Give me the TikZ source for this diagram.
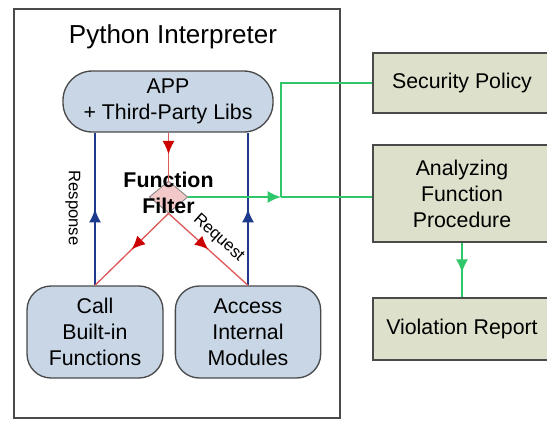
\documentclass[tikz,border=0pt]{standalone}
\usepackage{fontspec}
\setmainfont{Liberation Sans}
\usetikzlibrary{shapes.geometric,arrows.meta,decorations.markings}
\definecolor{boxblue}{HTML}{C8D6E6}
\definecolor{boxkhaki}{HTML}{DDE0CA}
\definecolor{edgegray}{HTML}{4A4A4A}
\definecolor{lineblue}{HTML}{1E3A8C}
\definecolor{linered}{HTML}{E05A5A}
\definecolor{tipred}{HTML}{CC0000}
\definecolor{linegreen}{HTML}{2FC76A}
\definecolor{diafill}{HTML}{F2C8C8}

\begin{document}
\begin{tikzpicture}[x=0.75pt,y=-0.75pt,
   txt/.style={font=\fontsize{16}{19.5}\selectfont,align=center},
   module/.style={txt,draw=edgegray,line width=1pt,fill=boxblue,rounded corners=18pt,minimum height=69pt,inner sep=0pt},
   checker/.style={txt,draw=edgegray,line width=1pt,fill=boxkhaki,minimum width=133.5pt,inner sep=0pt},
   tipat/.style 2 args={postaction={decorate},decoration={markings,
      mark=at position #1 with {\arrow{Latex[length=10pt,width=9pt,color=#2]}}}},
   small/.style={font=\fontsize{12.5}{15}\selectfont}]
   \useasboundingbox (0,0) rectangle (547,422);
   \clip (0,0) rectangle (547,422);
   % interpreter side
   \node[draw=edgegray,line width=0.9pt,fill=white,minimum width=244.5pt,minimum height=306.75pt,inner sep=0pt] (interp) at (177,213.5) {};
   \node[font=\fontsize{19.5}{23}\selectfont] (title) at (173,37) {Python Interpreter};
   \node[module,rounded corners=22pt,minimum width=157.5pt,minimum height=45.75pt] (app) at (168,101.5) {APP\\+ Third-Party Libs};
   \node[module,minimum width=102pt] (call) at (95,332) {Call\\Built-in\\Functions};
   \node[module,minimum width=109pt] (access) at (248,332) {Access\\Internal\\Modules};
   \node[diamond,draw=gray,line width=0.6pt,fill=diafill,minimum width=29pt,minimum height=24pt,inner sep=0pt,
      label={[font=\fontsize{16}{20}\selectfont\bfseries,align=center,yshift=3pt]center:Function\\Filter}] (filter) at (168.5,197) {};
   % checker side
   \node[checker,minimum height=45pt] (policy) at (462,83) {Security Policy};
   \node[checker,minimum height=72.75pt] (analyze) at (462,193.5) {Analyzing\\Function\\Procedure};
   \node[checker,minimum height=46.5pt] (report) at (462,329) {Violation Report};
   \coordinate (jn) at (281,0 |- filter.east);
   % connectors
   \draw[lineblue,line width=1.2pt,tipat={0.5}{lineblue}] (call.north) -- (call.north |- app.south);
   \draw[lineblue,line width=1.2pt,tipat={0.5}{lineblue}] (access.north) -- (access.north |- app.south);
   \node[small,rotate=-90] (resp) at (73,208) {Response};
   \draw[linered,line width=1pt,tipat={0.45}{tipred}] (app.south -| filter.north) -- (filter.north);
   \draw[linered,line width=1pt,tipat={0.5}{tipred}] (filter.south) -- (call.north);
   \draw[linered,line width=1pt,tipat={0.5}{tipred}] (filter.south) -- (access.north)
      node[small,pos=0.5,sloped,above=2pt,text=black] {Request};
   \draw[linegreen,line width=1.4pt,-{Latex[length=10pt,width=9pt]}] (filter.east) -- (jn);
   \draw[linegreen,line width=1.4pt] (jn) -- (jn -| analyze.west);
   \draw[linegreen,line width=1.4pt] (jn) |- (policy.west);
   \draw[linegreen,line width=1.4pt,tipat={0.55}{linegreen}] (analyze.south) -- (report.north);
\end{tikzpicture}
\end{document}
